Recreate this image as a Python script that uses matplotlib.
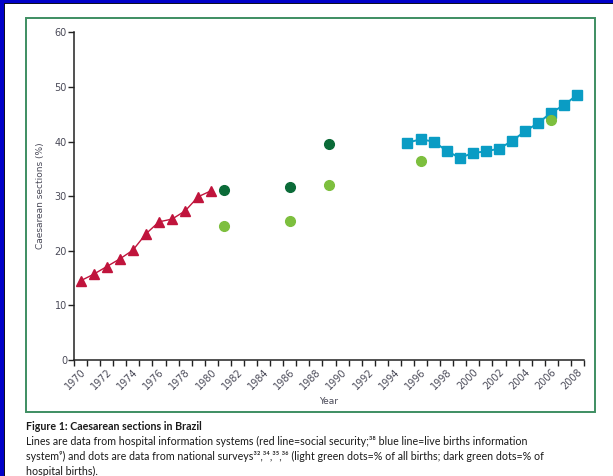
import numpy as np
import matplotlib
matplotlib.use("Agg")
import matplotlib.pyplot as plt
from matplotlib.patches import Rectangle

# ---- data ----
red_years = [1970, 1971, 1972, 1973, 1974, 1975, 1976, 1977, 1978, 1979, 1980]
red_vals = [14.5, 15.7, 17.1, 18.5, 20.1, 23.1, 25.3, 25.8, 27.3, 29.9, 31.0]

blue_years = [1995, 1996, 1997, 1998, 1999, 2000, 2001, 2002, 2003, 2004, 2005, 2006, 2007, 2008]
blue_vals = [39.8, 40.4, 40.0, 38.3, 37.0, 37.9, 38.2, 38.7, 40.1, 41.9, 43.4, 45.3, 46.7, 48.6]

dark_years = [1981, 1986, 1989]
dark_vals = [31.1, 31.7, 39.6]

light_years = [1981, 1986, 1989, 1996, 2006]
light_vals = [24.6, 25.5, 32.0, 36.5, 44.0]

label_years = list(range(1970, 2009, 2))
y_ticks = [0, 10, 20, 30, 40, 50, 60]

W, H = 613, 476
fig = plt.figure(figsize=(W / 100, H / 100), dpi=100)
fig.patch.set_facecolor("white")

def fx(px):
    return px / W

def fy(py):
    return 1 - py / H

# frame decorations
fig.patches.append(Rectangle((0, 0), fx(4), 1, transform=fig.transFigure,
                             facecolor="#0000C8", edgecolor="none", zorder=0))
fig.patches.append(Rectangle((fx(4), 0), fx(1), fy(4), transform=fig.transFigure,
                             facecolor="#101020", edgecolor="none", zorder=0))
fig.patches.append(Rectangle((0, fy(3)), 1, 3 / H, transform=fig.transFigure,
                             facecolor="#0000C8", edgecolor="none", zorder=0))
fig.patches.append(Rectangle((fx(4), fy(4)), 1, 1 / H, transform=fig.transFigure,
                             facecolor="#101020", edgecolor="none", zorder=0))
fig.patches.append(Rectangle((fx(26), fy(412)), fx(595 - 26), (412 - 17.5) / H,
                             transform=fig.transFigure, facecolor="none",
                             edgecolor="#3E8E62", linewidth=1.4, zorder=1))

ax = fig.add_axes([fx(74), fy(360), fx(584 - 74), (360 - 32.3) / H])
ax.set_facecolor("none")

ax.plot(red_years, red_vals, color="#C0143C", lw=1.0, marker="^", ms=7.5,
        clip_on=False, zorder=3)
ax.plot(blue_years, blue_vals, color="#0A9CC4", lw=1.4, marker="s", ms=6.5,
        clip_on=False, zorder=3)
ax.plot(dark_years, dark_vals, linestyle="none", color="#0B6B38", marker="o", ms=7,
        clip_on=False, zorder=3)
ax.plot(light_years, light_vals, linestyle="none", color="#7DBF3E", marker="o", ms=7,
        clip_on=False, zorder=3)

ax.set_xlim(1969.5, 2008.5)
ax.set_ylim(0, 60)
for s in ["top", "right"]:
    ax.spines[s].set_visible(False)
for s in ["left", "bottom"]:
    ax.spines[s].set_linewidth(1.1)
    ax.spines[s].set_color("#222222")

tick_col = "#4a4a58"
ax.set_yticks(y_ticks)
ax.set_yticklabels([str(v) for v in y_ticks], fontsize=7, color=tick_col)
ax.tick_params(axis="y", direction="out", length=4, width=1, pad=1, color="#222222")

ax.set_xticks(np.arange(1969.5, 2009.0, 1.0))
ax.set_xticklabels([])
ax.tick_params(axis="x", which="major", direction="out", length=4, width=1, color="#222222")
ax.set_xticks(label_years, minor=True)
ax.set_xticklabels([str(y) for y in label_years], minor=True, fontsize=7,
                   color=tick_col, rotation=45, ha="right", rotation_mode="anchor")
ax.tick_params(axis="x", which="minor", length=0, pad=5)

ax.set_ylabel("Caesarean sections (%)", fontsize=6.5, color=tick_col, labelpad=7)
ax.set_xlabel("Year", fontsize=6.5, color=tick_col, labelpad=4)

cap_font = ["Lato", "DejaVu Sans"]
fig.text(fx(26), fy(426), "Figure 1: Caesarean sections in Brazil", fontsize=7.7,
         fontweight="bold", family=cap_font, color="#1a1a1a", va="center")
lines = [
    "Lines are data from hospital information systems (red line=social security;\u00b3\u2078 blue line=live births information",
    "system\u2079) and dots are data from national surveys\u00b3\u00b2\u02d2\u00b3\u2074\u02d2\u00b3\u2075\u02d2\u00b3\u2076 (light green dots=% of all births; dark green dots=% of",
    "hospital births).",
]
lines[1] = lines[1].replace("\u02d2", ",")
for i, t in enumerate(lines):
    fig.text(fx(26), fy(441 + 15 * i), t, fontsize=7.7, family=cap_font,
             color="#1a1a1a", va="center")

fig.savefig("out.png", dpi=100)
